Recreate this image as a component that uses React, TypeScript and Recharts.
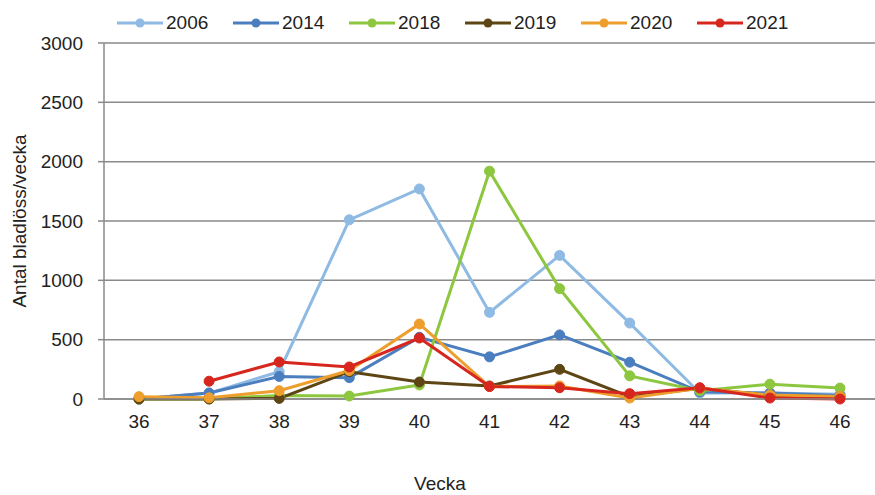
import React from 'react';
import { LineChart, Line, XAxis, YAxis, CartesianGrid, Label } from 'recharts';

const weeks = ['36', '37', '38', '39', '40', '41', '42', '43', '44', '45', '46'];
const y2006 = [0, 50, 230, 1510, 1770, 730, 1210, 640, 50, 50, 40];
const y2014 = [0, 50, 190, 180, 520, 355, 540, 310, 60, 50, 30];
const y2018 = [0, 0, 30, 25, 118, 1920, 930, 195, 70, 125, 92];
const y2019 = [0, 0, 5, 230, 143, 110, 250, 20, 90, 30, 20];
const y2020 = [20, 10, 70, 240, 632, 105, 110, 8, 90, 34, 22];
const y2021 = [null, 150, 312, 270, 514, 105, 95, 45, 95, 8, 0];
const yTicks = [0, 500, 1000, 1500, 2000, 2500, 3000];

const series = [
  { key: 'y2006', name: '2006', color: '#8EBAE3', values: y2006 },
  { key: 'y2014', name: '2014', color: '#4A7EBF', values: y2014 },
  { key: 'y2018', name: '2018', color: '#8DC63F', values: y2018 },
  { key: 'y2019', name: '2019', color: '#5E4614', values: y2019 },
  { key: 'y2020', name: '2020', color: '#EE9E2C', values: y2020 },
  { key: 'y2021', name: '2021', color: '#D7261E', values: y2021 },
];

const data = weeks.map((w, i) => {
  const row: any = { week: w };
  series.forEach((s) => {
    row[s.key] = s.values[i];
  });
  return row;
});

const FONT = '"Liberation Sans", Arial, sans-serif';

function LegendOverlay() {
  return (
    <div
      style={{
        position: 'absolute',
        left: 117,
        top: 8,
        display: 'flex',
        fontFamily: FONT,
        fontSize: 19,
        color: '#222',
      }}
    >
      {series.map((s) => (
        <div key={s.key} style={{ display: 'flex', alignItems: 'center', width: 116 }}>
          <svg width={46} height={30}>
            <line x1={0} y1={15} x2={46} y2={15} stroke={s.color} strokeWidth={3} />
            <circle cx={23} cy={15} r={4.5} fill={s.color} />
          </svg>
          <span style={{ marginLeft: 3 }}>{s.name}</span>
        </div>
      ))}
    </div>
  );
}

export default function App() {
  return (
    <div style={{ position: 'absolute', left: 0, top: 0, width: 875, height: 495, background: '#fff' }}>
      <LineChart
        width={875}
        height={495}
        data={data}
        margin={{ top: 43, right: 0, bottom: 0, left: 0 }}
      >
        <CartesianGrid vertical={false} stroke="#8a8a8a" strokeWidth={1.5} />
        <XAxis
          dataKey="week"
          height={96}
          padding={{ left: 35, right: 35 }}
          axisLine={{ stroke: '#8a8a8a', strokeWidth: 1.5 }}
          tickLine={false}
          tickMargin={10}
          tick={{ fill: '#222', fontSize: 19, fontFamily: FONT }}
        >
          <Label
            content={() => (
              <text x={440} y={490} textAnchor="middle" fill="#222" fontSize={19} fontFamily={FONT}>
                Vecka
              </text>
            )}
          />
        </XAxis>
        <YAxis
          width={104}
          domain={[0, 3000]}
          ticks={yTicks}
          interval={0}
          axisLine={{ stroke: '#8a8a8a', strokeWidth: 1.5 }}
          tickLine={{ stroke: '#8a8a8a', strokeWidth: 1.5 }}
          tickSize={6}
          tickMargin={15}
          tick={{ fill: '#222', fontSize: 19, fontFamily: FONT }}
        >
          <Label
            content={() => (
              <text
                x={26}
                y={221}
                transform="rotate(-90 26 221)"
                textAnchor="middle"
                fill="#222"
                fontSize={19}
                fontFamily={FONT}
              >
                Antal bladlöss/vecka
              </text>
            )}
          />
        </YAxis>
        {series.map((s) => (
          <Line
            key={s.key}
            dataKey={s.key}
            name={s.name}
            type="linear"
            stroke={s.color}
            strokeWidth={3}
            dot={{ r: 5, fill: s.color, stroke: s.color, strokeWidth: 1 }}
            activeDot={false}
            isAnimationActive={false}
          />
        ))}
      </LineChart>
      <LegendOverlay />
    </div>
  );
}
